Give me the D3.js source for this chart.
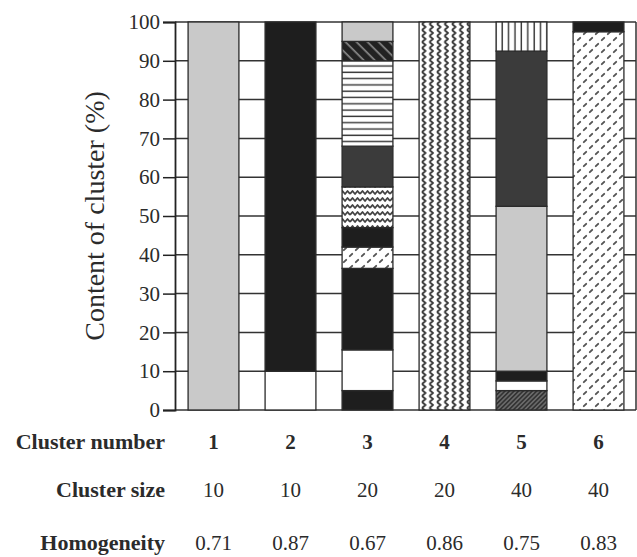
<!DOCTYPE html>
<html>
<head>
<meta charset="utf-8">
<script src="https://cdn.jsdelivr.net/npm/d3@7"></script>
<style>
  body { margin: 0; background: #fff; }
  svg text { font-family: "Liberation Serif", "Times New Roman", serif; fill: #2b2b2b; }
</style>
</head>
<body>
<div id="chart-area"></div>
<script>
// ---------------------------//
//            DATA            //
// ---------------------------//
const clusters = ["1", "2", "3", "4", "5", "6"];
const clusterSizes = ["10", "10", "20", "20", "40", "40"];
const homogeneity = ["0.71", "0.87", "0.67", "0.86", "0.75", "0.83"];
const yTicks = [0, 10, 20, 30, 40, 50, 60, 70, 80, 90, 100];

// segment fills per cluster, bottom to top
const segmentKinds = [
  ["gray"],
  ["white", "black"],
  ["black", "white", "black", "dashes", "black", "waves", "dark", "hstripes", "hatchBack", "gray"],
  ["zigzag"],
  ["hatchFwd", "white", "black", "gray", "dark", "vstripes"],
  ["dashes", "black"]
];
// segment shares (%) per cluster, bottom to top
const segmentShares = [
  [100],
  [10, 90],
  [5, 10.5, 21, 5.5, 5, 10.5, 10.5, 22, 5, 5],
  [100],
  [5, 2.5, 2.5, 42.5, 40, 7.5],
  [97.5, 2.5]
];

const rowLabels = ["Cluster number", "Cluster size", "Homogeneity"];

// ---------------------------//
//           LAYOUT           //
// ---------------------------//
const W = 637, H = 557;
const MARGIN = {left: 175, right: 0, top: 22, bottom: 147};
const plotH = H - MARGIN.top - MARGIN.bottom;
const FONT = "'Liberation Serif', 'Times New Roman', serif";

const svg = d3.select("#chart-area").append("svg")
  .attr("width", W)
  .attr("height", H);

const x = d3.scaleBand()
  .domain(clusters)
  .range([MARGIN.left, W])
  .paddingInner(0.34)
  .paddingOuter(0.17);

const y = d3.scaleLinear()
  .domain([0, 100])
  .range([MARGIN.top + plotH, MARGIN.top]);

// ---------------------------//
//          PATTERNS          //
// ---------------------------//
const defs = svg.append("defs");

function pattern(id, w, h, bg, transform) {
  const p = defs.append("pattern")
    .attr("id", id)
    .attr("patternUnits", "userSpaceOnUse")
    .attr("width", w)
    .attr("height", h);
  if (transform) p.attr("patternTransform", transform);
  p.append("rect").attr("width", w).attr("height", h).attr("fill", bg);
  return p;
}

// short diagonal dashes on a diamond lattice
let p = pattern("dashes", 12, 12, "#fff");
p.append("path").attr("d", "M1.8,4.2 L4.2,1.8 M7.8,10.2 L10.2,7.8")
  .attr("stroke", "#555").attr("stroke-width", 1.9).attr("stroke-linecap", "round");

// horizontal waves
p = pattern("waves", 10, 7, "#fff");
p.append("path").attr("d", "M0,5 L2.5,2 L5,5 L7.5,2 L10,5")
  .attr("fill", "none").attr("stroke", "#444").attr("stroke-width", 1.8)
  .attr("stroke-linejoin", "round");

// vertical zigzag
p = pattern("zigzag", 7.5, 6, "#fff");
p.append("path").attr("d", "M2,0 L5.5,3 L2,6")
  .attr("fill", "none").attr("stroke", "#3a3a3a").attr("stroke-width", 1.9)
  .attr("stroke-linejoin", "round");

// horizontal stripes
p = pattern("hstripes", 10, 6.3, "#fff");
p.append("line").attr("x1", 0).attr("x2", 10).attr("y1", 3).attr("y2", 3)
  .attr("stroke", "#333").attr("stroke-width", 1.4);

// vertical stripes
p = pattern("vstripes", 6.4, 10, "#fff");
p.append("line").attr("x1", 3).attr("x2", 3).attr("y1", 0).attr("y2", 10)
  .attr("stroke", "#333").attr("stroke-width", 1.4);

// black with light "\" lines
p = pattern("hatchBack", 7.8, 10, "#222", "rotate(-45)");
p.append("line").attr("x1", 4).attr("x2", 4).attr("y1", 0).attr("y2", 10)
  .attr("stroke", "#999").attr("stroke-width", 1.4);

// dark with dense "/" lines
p = pattern("hatchFwd", 3.2, 10, "#333", "rotate(45)");
p.append("line").attr("x1", 1.6).attr("x2", 1.6).attr("y1", 0).attr("y2", 10)
  .attr("stroke", "#8a8a8a").attr("stroke-width", 1);

const fills = {
  gray: "#c9c9c9",
  black: "#1e1e1e",
  dark: "#3b3b3b",
  white: "#ffffff",
  dashes: "url(#dashes)",
  waves: "url(#waves)",
  zigzag: "url(#zigzag)",
  hstripes: "url(#hstripes)",
  vstripes: "url(#vstripes)",
  hatchBack: "url(#hatchBack)",
  hatchFwd: "url(#hatchFwd)"
};

// ---------------------------//
//            GRID            //
// ---------------------------//
svg.append("g")
  .selectAll("line")
  .data(yTicks)
  .join("line")
  .attr("x1", MARGIN.left)
  .attr("x2", W - 1)
  .attr("y1", d => y(d))
  .attr("y2", d => y(d))
  .attr("stroke", "#333")
  .attr("stroke-width", 1.5);

svg.append("line")
  .attr("x1", W - 1).attr("x2", W - 1)
  .attr("y1", y(100)).attr("y2", y(0))
  .attr("stroke", "#333").attr("stroke-width", 1.5);

// ---------------------------//
//            BARS            //
// ---------------------------//
const segs = [];
clusters.forEach((c, i) => {
  let acc = 0;
  segmentShares[i].forEach((v, j) => {
    segs.push({cluster: c, kind: segmentKinds[i][j], y0: acc, y1: acc + v});
    acc += v;
  });
});

svg.append("g")
  .selectAll("rect")
  .data(segs)
  .join("rect")
  .attr("x", d => x(d.cluster))
  .attr("width", x.bandwidth())
  .attr("y", d => y(d.y1))
  .attr("height", d => y(d.y0) - y(d.y1))
  .attr("fill", d => fills[d.kind])
  .attr("stroke", "#2a2a2a")
  .attr("stroke-width", 1.3);

// ---------------------------//
//            AXIS            //
// ---------------------------//
const yAxis = svg.append("g")
  .attr("transform", `translate(${MARGIN.left},0)`)
  .call(d3.axisLeft(y).tickValues(yTicks).tickSize(12).tickPadding(3));
yAxis.attr("font-family", null);
yAxis.select(".domain").attr("stroke", "#222").attr("stroke-width", 1.8);
yAxis.selectAll(".tick line").attr("stroke", "#222").attr("stroke-width", 1.5);
yAxis.selectAll(".tick text")
  .style("font-family", FONT)
  .style("font-size", "21px")
  .attr("fill", "#333");

svg.append("text")
  .attr("transform", `translate(104,${(y(0) + y(100)) / 2}) rotate(-90)`)
  .attr("text-anchor", "middle")
  .style("font-family", FONT)
  .style("font-size", "28px")
  .attr("fill", "#333")
  .text("Content of cluster (%)");

// ---------------------------//
//            TABLE           //
// ---------------------------//
const rowY = [449, 497, 550];
const rowValues = [clusters, clusterSizes, homogeneity];

rowLabels.forEach((label, r) => {
  svg.append("text")
    .attr("x", 165)
    .attr("y", rowY[r])
    .attr("text-anchor", "end")
    .style("font-family", FONT)
    .style("font-size", "22px")
    .style("font-weight", "bold")
    .text(label);

  svg.append("g")
    .selectAll("text")
    .data(rowValues[r])
    .join("text")
    .attr("x", (d, i) => x(clusters[i]) + x.bandwidth() / 2)
    .attr("y", rowY[r])
    .attr("text-anchor", "middle")
    .style("font-family", FONT)
    .style("font-size", "21px")
    .style("font-weight", r === 0 ? "bold" : "normal")
    .text(d => d);
});
</script>
</body>
</html>
